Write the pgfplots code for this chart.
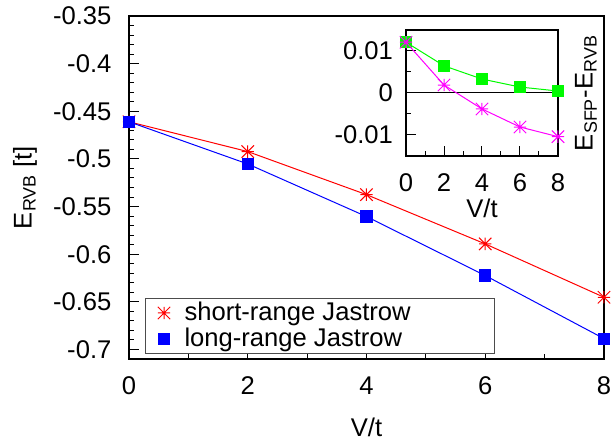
\documentclass[border=0pt]{standalone}
\usepackage{fontspec}
\setmainfont{Liberation Sans}
\usepackage{pgfplots}
\pgfplotsset{compat=1.18}

\pgfdeclareplotmark{gpstar}{%
  \pgfpathmoveto{\pgfqpoint{-\pgfplotmarksize}{0pt}}%
  \pgfpathlineto{\pgfqpoint{\pgfplotmarksize}{0pt}}%
  \pgfpathmoveto{\pgfqpoint{0pt}{-\pgfplotmarksize}}%
  \pgfpathlineto{\pgfqpoint{0pt}{\pgfplotmarksize}}%
  \pgfpathmoveto{\pgfqpoint{-\pgfplotmarksize}{-\pgfplotmarksize}}%
  \pgfpathlineto{\pgfqpoint{\pgfplotmarksize}{\pgfplotmarksize}}%
  \pgfpathmoveto{\pgfqpoint{-\pgfplotmarksize}{\pgfplotmarksize}}%
  \pgfpathlineto{\pgfqpoint{\pgfplotmarksize}{-\pgfplotmarksize}}%
  \pgfusepathqstroke}

\definecolor{gpred}{RGB}{255,0,0}
\definecolor{gpblue}{RGB}{0,0,255}
\definecolor{gpgreen}{RGB}{0,250,0}
\definecolor{gpmag}{RGB}{255,0,255}

\pgfplotsset{
  gpbase/.style={
    scale only axis, clip=false,
    axis line style={line width=0.8bp, black},
    tick pos=left, tick align=inside,
    major tick length=5bp, minor tick length=2.5bp,
    every tick/.style={line width=0.5bp, black},
    xticklabel style={yshift=-5.5bp},
    scaled ticks=false,
  },
  gpleg/.style={legend image code/.code={\path (-9bp,0) (10bp,0); \draw[##1] plot[only marks] coordinates {(0,0)};}},
}

\begin{document}
\begin{tikzpicture}[font=\fontsize{12.8bp}{15bp}\selectfont]
\path[use as bounding box] (-64.5bp,-40bp) rectangle (243.5bp,179.5bp);
\begin{axis}[gpbase, at={(0,0)}, anchor=south west,
  width=237.5bp, height=171.5bp,
  xmin=0, xmax=8, ymin=-0.71, ymax=-0.35,
  xtick={0,2,4,6,8}, xticklabels={0,2,4,6,8}, minor x tick num=1,
  ytick={-0.7,-0.65,-0.6,-0.55,-0.5,-0.45,-0.4,-0.35},
  yticklabels={-0.7,-0.65,-0.6,-0.55,-0.5,-0.45,-0.4,-0.35},
  minor y tick num=4,
  yticklabel style={xshift=-5.3bp},
  xlabel={V/t}, ylabel={E\textsubscript{RVB} [t]},
  xlabel style={at={(axis description cs:0.5,-0.198)}, anchor=center},
  ylabel style={at={(axis description cs:-0.219,0.5)}, anchor=center},
  legend style={at={(axis description cs:0.0337,0.0146)}, anchor=south west,
    draw=black!70, line width=0.5bp, fill=white,
    inner xsep=0pt, inner ysep=0.75bp, row sep=0pt, column sep=0pt,
    nodes={inner sep=0pt, text height=10.5bp, text depth=2.5bp}},
  legend cell align=left,
]
\addplot[gpred, line width=0.5bp, mark=gpstar, mark size=3.1bp, gpleg]
  coordinates {(0,-0.4610) (2,-0.4923) (4,-0.5375) (6,-0.5892) (8,-0.6452)};
\addlegendentry{\makebox[155bp][l]{short-range Jastrow}}
\addplot[gpblue, line width=0.5bp, mark=square*, mark size=2.8bp, gpleg]
  coordinates {(0,-0.4610) (2,-0.5053) (4,-0.5605) (6,-0.6224) (8,-0.6886)};
\addlegendentry{\makebox[155bp][l]{long-range Jastrow}}
\end{axis}

\begin{axis}[gpbase, at={(138.5bp,101.5bp)}, anchor=south west,
  width=76bp, height=63bp,
  xmin=0, xmax=8, ymin=-0.015, ymax=0.015,
  xtick={0,2,4,6,8}, xticklabels={0,2,4,6,8}, minor x tick num=1,
  ytick={-0.01,0,0.01}, yticklabels={-0.01,0,0.01}, minor y tick num=1,
  yticklabel style={xshift=-3bp},
  xlabel={V/t}, ylabel={E\textsubscript{SFP}-E\textsubscript{RVB}},
  xlabel style={at={(axis description cs:0.5,-0.417)}, anchor=center},
  ylabel style={at={(axis description cs:1.184,0.5)}, anchor=center},
]
\addplot[black, line width=0.5bp, forget plot] coordinates {(0,0) (8,0)};
\addplot[gpgreen, line width=0.5bp, mark=square*, mark size=2.8bp]
  coordinates {(0,0.01209) (2,0.00647) (4,0.00332) (6,0.00142) (8,0.00047)};
\addplot[gpmag, line width=0.5bp, mark=gpstar, mark size=3.1bp]
  coordinates {(0,0.01209) (2,0.0019) (4,-0.0038) (6,-0.0081) (8,-0.0104)};
\end{axis}
\end{tikzpicture}
\end{document}
